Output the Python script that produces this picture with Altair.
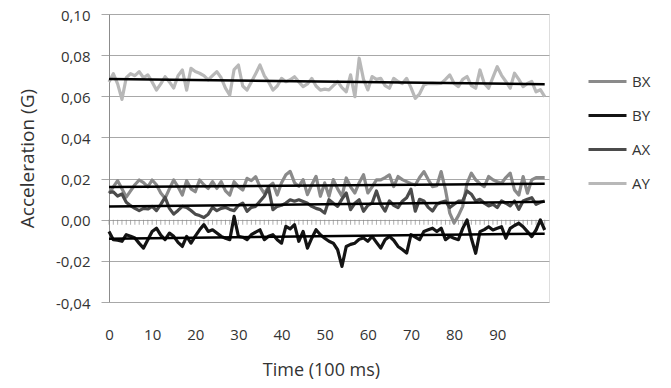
import altair as alt
import pandas as pd

# ---- data (values in milli-G) ----
time_index = list(range(102))

bx_mg = [12.8, 16, 19, 15, 11, 14, 17, 19.3, 18, 16, 19.3, 17, 13, 10.4, 15, 19.3, 16, 12, 19, 15,
         13.6, 19.3, 17, 15.2, 18.5, 15.2, 18.5, 14, 12, 18.5, 16, 14.4, 20.1, 19, 20.9, 16, 12.8, 16, 17.7, 12,
         18, 21.9, 23.5, 18, 16.2, 19.5, 12.2, 17, 21.1, 11.4, 17.9, 11.4, 19.5, 15, 11.4, 20.3, 16, 13, 18, 21.9,
         13, 16, 19.4, 19.4, 20.5, 21.8, 16.1, 21, 19.5, 18.5, 17.5, 16.9, 20.5, 23.4, 19.5, 16.1, 16.5, 23.4, 14.5, 3.2,
         -1.6, 2, 6.5, 17.7, 22.6, 19.4, 17.5, 16.1, 21, 19.4, 18.5, 17.7, 20.5, 22.6, 14.5, 12, 21, 12.9, 19.4, 20.5,
         20.5, 20.5]

by_mg = [-5.7, -9.7, -10.0, -10.5, -7.3, -8.0, -8.9, -11.5, -13.8, -9.7, -5.7, -4.1, -7.5, -9.7, -6.5, -8.1, -11.0, -13.0, -8.1, -11.4,
         -8.0, -4.9, -2.4, -5.7, -4.9, -6.5, -8.1, -9.0, -9.7, 1.6, -8.1, -8.5, -9.7, -7.3, -6.0, -4.9, -9.7, -8.0, -7.3, -9.7,
         -11.4, -3.2, -4.5, -2.4, -10.5, -5.7, -13.8, -9.0, -4.9, -7.3, -9.0, -10.5, -11.4, -14.6, -22.7, -13.0, -12.0, -11.4, -9.5, -8.9,
         -10.5, -8.1, -11.0, -13.8, -9.7, -8.1, -10.0, -13.0, -14.5, -16.2, -7.3, -8.5, -9.7, -5.7, -4.9, -4.1, -5.7, -4.1, -9.7, -8.1,
         -9.0, -9.7, -4.2, -0.1, -9.0, -16.3, -5.8, -4.8, -3.4, -5.0, -4.2, -3.4, -9.0, -4.2, -2.8, -1.7, -3.4, -5.8, -8.2, -5.0,
         -0.1, -5.0]

ax_mg = [13.3, 13.5, 11.5, 12.5, 8.5, 6.8, 5.5, 4.4, 5.5, 5.2, 6.5, 4.4, 7.5, 10.9, 5.5, 2.7, 4.5, 6.5, 6, 4.5,
         2.7, 2, 1.1, 2.7, 6, 4.4, 5.5, 6, 5, 4.4, 7, 8.1, 4.1, 6, 6.5, 9, 11.4, 15.4, 4.9, 6.5,
         7, 8.1, 9.7, 9, 9.7, 8.9, 8, 6.5, 5.5, 4.9, 3.2, 9.7, 8, 6.5, 10, 13, 4.9, 8, 9.7, 4.1,
         7, 8.1, 14, 7.5, 4.2, 9.1, 7, 5.9, 9, 10.7, 14.8, 4.2, 9.9, 9.1, 6, 4.2, 7.5, 8.5, 9.1, 5.9,
         7.5, 9, 9.1, 14, 12.4, 9.1, 9.9, 8, 6.7, 7.5, 5.9, 9.1, 8, 6.7, 9.1, 5.1, 9.1, 10, 10.7, 7.5,
         8.5, 9.1]

ay_mg = [67, 71, 66, 58.5, 69, 71, 70, 72, 69, 70.4, 67, 63, 66, 69.5, 67, 64, 70, 72.8, 63, 73.6,
         72, 71.2, 70, 68, 70, 72, 69, 64, 60.6, 73, 75.2, 65, 63, 67, 71, 75.2, 70, 67, 63, 65,
         68.7, 67.1, 68, 69.5, 67, 64.7, 66, 68.7, 65, 63, 63.5, 63.1, 65.2, 67.2, 64.2, 62.2, 70.4, 59.8, 78.5, 68.2,
         63.1, 69.6, 68.2, 68.7, 65.2, 63.9, 68.7, 67.2, 66.2, 68.7, 64.2, 59, 61.2, 65.5, 66.2, 66.3, 66.2, 66.3, 68.2, 70.4,
         66.2, 64.7, 68.2, 69.6, 65.2, 63.9, 72.8, 66.2, 63.9, 69.2, 74.4, 70.2, 67.2, 63.9, 71.2, 68.2, 64.7, 66.2, 67.2, 62.2,
         63.2, 59.8]

series_names = ["BX", "BY", "AX", "AY"]
series_colors = ["#8a8a8a", "#141414", "#4b4b4b", "#b8b8b8"]
y_ticks = [-0.04, -0.02, 0.0, 0.02, 0.04, 0.06, 0.08, 0.10]
x_ticks = [0, 10, 20, 30, 40, 50, 60, 70, 80, 90]

rows = []
for name, vals in zip(series_names, [bx_mg, by_mg, ax_mg, ay_mg]):
    for t, v in zip(time_index, vals):
        rows.append({"t": t, "v": v / 1000.0, "series": name})
df = pd.DataFrame(rows)
ticks_df = pd.DataFrame({"t": time_index})

FONT = "Open Sans"
TXT = "#333333"

x_scale = alt.Scale(domain=[0, 102], nice=False, zero=False)
y_scale = alt.Scale(domain=[-0.04, 0.10], nice=False, zero=False)

x_axis = alt.Axis(
    values=x_ticks, title="Time (100 ms)", grid=False, domain=False, ticks=False,
    labelPadding=25, labelFont=FONT, labelFontSize=15, labelColor=TXT, labelFlush=False,
    titleFont=FONT, titleFontSize=18, titleFontWeight="normal", titleColor=TXT,
    titleX=212, titleY=68, titleBaseline="middle",
)
y_axis = alt.Axis(
    values=y_ticks,
    labelExpr="(datum.value < 0 ? '-' : '') + replace(format(abs(datum.value), '.2f'), '.', ',')",
    title="Acceleration (G)", grid=True, gridColor="#a8a8a8", gridWidth=1,
    domainColor="#8c8c8c", tickColor="#a8a8a8", tickSize=8, labelPadding=11, labelOffset=1,
    labelFont=FONT, labelFontSize=15, labelColor=TXT, labelFlush=False,
    titleFont=FONT, titleFontSize=19, titleFontWeight="normal", titleColor=TXT,
    titleX=-82, titleY=144, titleBaseline="middle",
)

base = alt.Chart(df).encode(
    x=alt.X("t:Q", scale=x_scale, axis=x_axis),
    y=alt.Y("v:Q", scale=y_scale, axis=y_axis),
)

lines = base.mark_line(strokeWidth=3.2, strokeJoin="round").encode(
    color=alt.Color(
        "series:N",
        scale=alt.Scale(domain=series_names, range=series_colors),
        legend=alt.Legend(
            orient="none", legendX=478, legendY=47, title=None,
            symbolType="stroke", symbolSize=1444, symbolStrokeWidth=3,
            labelFont=FONT, labelFontSize=15, labelColor=TXT, labelOffset=4,
            rowPadding=5, padding=0,
        ),
    ),
)

trend = base.transform_regression(
    "t", "v", groupby=["series"], extent=[0, 101]
).mark_line(color="black", strokeWidth=2.5).encode(detail="series:N")

zero_ticks = alt.Chart(ticks_df).mark_tick(
    orient="vertical", size=5, thickness=1, color="#8c8c8c", yOffset=2.5
).encode(x=alt.X("t:Q", scale=x_scale), y=alt.datum(0))

chart = alt.layer(zero_ticks, lines, trend).properties(
    width=440, height=288,
    autosize=alt.AutoSizeParams(type="none"),
    padding={"left": 101, "top": 6, "right": 114, "bottom": 78},
).configure_view(stroke=None).configure(background="white")

chart.save("out.html", embed_options={"renderer": "svg", "actions": False})
